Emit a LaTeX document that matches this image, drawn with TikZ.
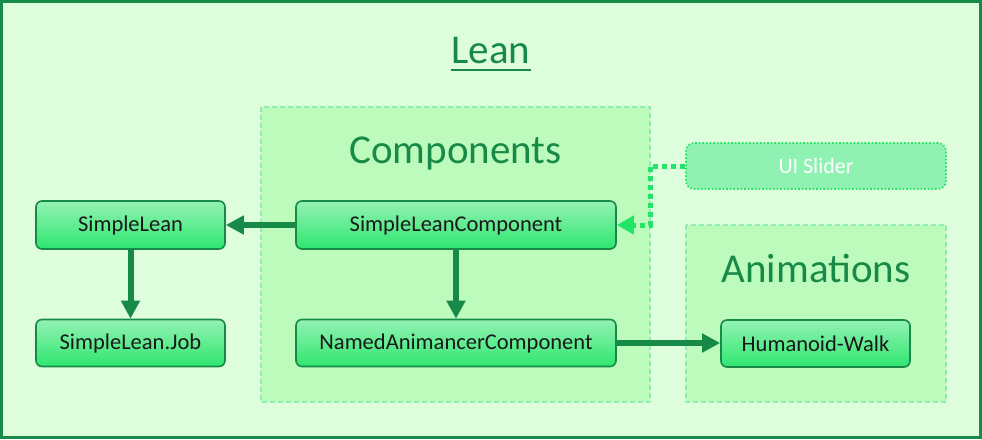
\documentclass[tikz,border=0pt]{standalone}
\usepackage{fontspec}
\setmainfont{Carlito}
\usetikzlibrary{arrows.meta}
\definecolor{outerfill}{HTML}{DDFDDD}
\definecolor{darkg}{HTML}{178A48}
\definecolor{groupfill}{HTML}{BCFBBC}
\definecolor{groupline}{HTML}{8EEEB0}
\definecolor{nodetop}{HTML}{93F2B3}
\definecolor{nodebot}{HTML}{2EE66F}
\definecolor{brightg}{HTML}{22E466}
\definecolor{sliderfill}{HTML}{8FF2B2}
\tikzset{
  stepbox/.style={draw=darkg, line width=1.6pt, rounded corners=6pt, top color=nodetop, bottom color=nodebot,
    inner sep=0pt, font=\fontsize{22.5}{27}\selectfont, text=black!90},
  groupbox/.style={draw=groupline, fill=groupfill, dashed, line width=1.2pt, dash pattern=on 5pt off 3pt},
  titletext/.style={font=\fontsize{41}{48}\selectfont, text=darkg, anchor=base, inner sep=0pt},
  mainarrow/.style={draw=darkg, line width=6pt, -{Triangle[length=18pt,width=18pt]}},
  dotarrow/.style={draw=brightg, line width=5pt, dash pattern=on 5pt off 4pt, -{Triangle[length=17pt,width=18pt]}},
}
\begin{document}
\begin{tikzpicture}[x=1pt,y=-1pt]
\useasboundingbox (0,0) rectangle (982,439);
\fill[outerfill] (0,0) rectangle (982,439);
\draw[darkg, line width=3pt] (1.5,1.5) rectangle (980.5,437.5);
\node[titletext] (lean) at (491,63) {Lean};
\draw[darkg, line width=2.6pt] (lean.base west) ++(0,7) coordinate (ul1) -- (lean.base east |- ul1);
\path[groupbox] (261,107) rectangle (650,402);
\path[groupbox] (686,225) rectangle (946,402);
\node[titletext] (comp) at (455.5,163) {Components};
\node[titletext] (anim) at (816,282) {Animations};
\node[stepbox, minimum width=189pt, minimum height=48pt] (sl) at (130.5,225) {SimpleLean};
\node[stepbox, minimum width=189pt, minimum height=47pt] (slj) at (130.5,343) {SimpleLean.Job};
\node[stepbox, minimum width=320pt, minimum height=48pt] (slc) at (456,225) {SimpleLeanComponent};
\node[stepbox, minimum width=320pt, minimum height=47pt] (nac) at (456,343) {NamedAnimancerComponent};
\node[stepbox, minimum width=189pt, minimum height=47pt] (hw) at (815.5,343.5) {Humanoid-Walk};
\node[draw=brightg, fill=sliderfill, line width=1.6pt, dotted, rounded corners=8pt, minimum width=260pt, minimum height=46pt,
  inner sep=0pt, font=\fontsize{22}{26}\selectfont, text=white] (ui) at (816,166) {UI Slider};
\draw[mainarrow] (slc.west) -- (sl.east);
\draw[mainarrow] (sl.south) -- (slj.north);
\draw[mainarrow] (slc.south) -- (nac.north);
\draw[mainarrow] (nac.east) -- (hw.west |- nac.east);
\coordinate (c1) at (650,166);
\coordinate (c2) at (650,225);
\draw[dotarrow] (ui.west) -- (c1) -- (c2) -- (slc.east);
\end{tikzpicture}
\end{document}
